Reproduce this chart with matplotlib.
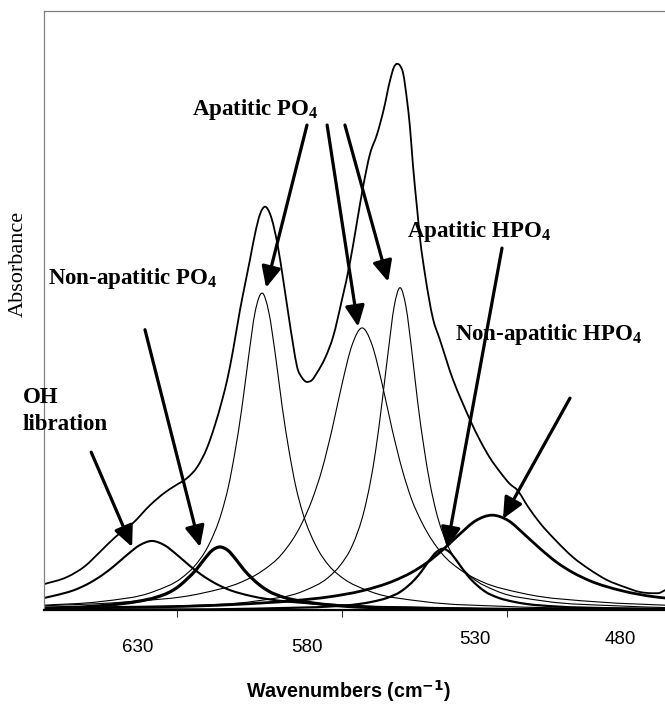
import matplotlib
matplotlib.use("Agg")
import matplotlib.pyplot as plt
from matplotlib.path import Path
from matplotlib.patches import PathPatch

plt.rcParams['mathtext.fontset'] = 'custom'
plt.rcParams['mathtext.bf'] = 'Liberation Serif:bold'
plt.rcParams['mathtext.rm'] = 'Liberation Serif:bold'

# measured spectrum (envelope)
env_wn = [658.2, 651.2, 645.8, 641.2, 636.7, 631.2, 626.0, 621.5, 618.5, 614.8, 611.8, 608.8,
          606.4, 604.2, 602.7, 600.9, 598.8, 597.3, 595.8, 594.2, 592.7, 591.2, 589.7, 587.3,
          585.7, 584.2, 582.7, 581.5, 580.0, 578.5, 577.0, 575.5, 573.0, 570.6, 567.9, 565.5,
          563.3, 561.5, 559.4, 557.3, 555.2, 553.3, 552.1, 551.2, 550.3, 549.4, 548.2, 547.3,
          546.4, 545.1, 544.2, 542.7, 540.3, 538.2, 534.2, 531.5, 529.1, 526.1, 523.0, 520.0,
          517.0, 514.8, 511.5, 507.9, 503.3, 497.9, 492.7, 487.6, 482.1, 477.6, 473.9, 472.1, 470.0]
env_abs = [0.043, 0.055, 0.073, 0.097, 0.121, 0.145, 0.175, 0.196, 0.207, 0.220, 0.238, 0.270,
           0.308, 0.350, 0.383, 0.433, 0.500, 0.542, 0.583, 0.628, 0.660, 0.672, 0.660, 0.605,
           0.550, 0.495, 0.442, 0.405, 0.387, 0.380, 0.383, 0.395, 0.420, 0.455, 0.517, 0.578,
           0.648, 0.705, 0.760, 0.792, 0.835, 0.883, 0.905, 0.910, 0.907, 0.895, 0.850, 0.805,
           0.742, 0.667, 0.617, 0.558, 0.485, 0.450, 0.383, 0.347, 0.317, 0.283, 0.253, 0.230,
           0.210, 0.200, 0.172, 0.145, 0.117, 0.088, 0.067, 0.050, 0.038, 0.030, 0.028, 0.028, 0.033]

# OH libration band
oh_wn = [658.2, 655.8, 648.2, 644.4, 640.6, 636.8, 633.0, 629.2, 625.5, 621.7, 617.9, 614.1,
         610.3, 606.5, 602.7, 595.2, 587.6, 580.0, 564.9, 534.6, 489.1, 470.0]
oh_abs = [0.020, 0.023, 0.035, 0.045, 0.058, 0.074, 0.092, 0.108, 0.115, 0.108, 0.092, 0.074,
          0.058, 0.045, 0.035, 0.023, 0.016, 0.012, 0.007, 0.003, 0.001, 0.001]

# non-apatitic PO4
npo4_wn = [658.2, 643.7, 634.0, 629.1, 624.3, 619.4, 617.0, 614.6, 612.1, 609.7, 607.3, 604.9,
           602.4, 600.0, 597.6, 595.2, 592.7, 590.3, 585.5, 580.6, 575.8, 566.1, 546.7, 517.6, 470.0]
npo4_abs = [0.003, 0.006, 0.011, 0.015, 0.021, 0.032, 0.041, 0.053, 0.067, 0.084, 0.099, 0.105,
            0.099, 0.084, 0.067, 0.053, 0.041, 0.032, 0.021, 0.015, 0.011, 0.006, 0.003, 0.001, 0.001]

# apatitic PO4, three bands
apo4a_wn = [658.2, 641.2, 624.8, 616.6, 612.6, 608.5, 604.4, 602.3, 600.3, 598.2, 596.2, 594.2,
            592.1, 590.1, 588.0, 586.0, 583.9, 581.9, 579.8, 575.7, 571.7, 567.6, 559.4, 543.0,
            518.5, 470.0]
apo4a_abs = [0.008, 0.014, 0.031, 0.053, 0.073, 0.106, 0.162, 0.206, 0.264, 0.338, 0.422, 0.497,
             0.528, 0.497, 0.422, 0.338, 0.264, 0.206, 0.162, 0.106, 0.073, 0.053, 0.031, 0.014,
             0.006, 0.002]

apo4b_wn = [658.2, 634.5, 610.3, 598.2, 592.1, 586.0, 580.0, 577.0, 573.9, 570.9, 567.9, 564.8,
            561.8, 558.8, 555.7, 552.7, 549.7, 546.7, 543.6, 537.6, 531.5, 525.4, 513.3, 489.1, 470.0]
apo4b_abs = [0.007, 0.013, 0.028, 0.047, 0.065, 0.094, 0.145, 0.183, 0.235, 0.301, 0.376, 0.442,
             0.470, 0.442, 0.376, 0.301, 0.235, 0.183, 0.145, 0.094, 0.065, 0.047, 0.028, 0.013, 0.008]

apo4c_wn = [658.2, 615.7, 593.9, 579.4, 572.1, 568.5, 564.8, 561.2, 559.4, 557.6, 555.8, 553.9,
            552.1, 550.3, 548.5, 546.7, 544.9, 543.0, 541.2, 539.4, 535.8, 532.1, 528.5, 521.2,
            506.7, 484.9, 470.0]
apo4c_abs = [0.002, 0.007, 0.015, 0.032, 0.054, 0.074, 0.107, 0.165, 0.210, 0.269, 0.344, 0.430,
             0.505, 0.537, 0.505, 0.430, 0.344, 0.269, 0.210, 0.165, 0.107, 0.074, 0.054, 0.032,
             0.015, 0.007, 0.004]

# apatitic HPO4
ahpo4_wn = [658.2, 613.6, 588.2, 571.2, 562.7, 558.5, 554.3, 550.0, 547.9, 545.8, 543.7, 541.5,
            539.4, 537.3, 535.2, 533.1, 530.9, 528.8, 526.7, 524.6, 520.3, 516.1, 511.9, 503.4,
            486.4, 470.0]
ahpo4_abs = [0.001, 0.001, 0.003, 0.006, 0.010, 0.014, 0.020, 0.031, 0.040, 0.051, 0.065, 0.082,
             0.096, 0.102, 0.096, 0.082, 0.065, 0.051, 0.040, 0.031, 0.020, 0.014, 0.010, 0.006,
             0.003, 0.002]

# non-apatitic HPO4
nhpo4_wn = [658.2, 640.6, 601.2, 581.5, 571.7, 561.8, 552.0, 547.0, 542.1, 537.2, 532.3, 527.3,
            522.4, 517.5, 512.6, 507.6, 502.7, 497.8, 492.9, 483.0, 473.2, 470.0]
nhpo4_abs = [0.003, 0.004, 0.009, 0.016, 0.022, 0.032, 0.049, 0.062, 0.079, 0.101, 0.126, 0.149,
             0.158, 0.149, 0.126, 0.101, 0.079, 0.062, 0.049, 0.032, 0.022, 0.020]

# axis labelling (Excel-style: labels sit between the tick marks)
tick_pos = [617.9, 567.9, 517.9]
tick_text = ['630', '580', '530', '480']
tick_text_pos = [629.9, 578.5, 527.7, 483.6]

W, H = 665, 706
fig = plt.figure(figsize=(W / 100, H / 100), dpi=100)
ax = fig.add_axes([44 / W, 1 - 610 / H, (W - 44) / W, 599 / H])


def px(x, y):
    # figure pixel (from top-left) -> figure fraction
    return x / W, 1 - y / H


def smooth_line(x, y, lw):
    # draw like Excel's "smoothed line": cubic bezier segments through the points
    n = len(x)
    sl = [(y[i + 1] - y[i]) / (x[i + 1] - x[i]) for i in range(n - 1)]
    m = [sl[0]] + [0.0] * (n - 2) + [sl[-1]]
    for i in range(1, n - 1):
        if sl[i - 1] * sl[i] <= 0:
            m[i] = 0.0
        else:
            h0, h1 = x[i] - x[i - 1], x[i + 1] - x[i]
            m[i] = (h0 * sl[i] + h1 * sl[i - 1]) / (h0 + h1)
    verts = [(x[0], y[0])]
    codes = [Path.MOVETO]
    for i in range(n - 1):
        d = (x[i + 1] - x[i]) / 3
        verts += [(x[i] + d, y[i] + d * m[i]), (x[i + 1] - d, y[i + 1] - d * m[i + 1]),
                  (x[i + 1], y[i + 1])]
        codes += [Path.CURVE4] * 3
    ax.add_patch(PathPatch(Path(verts, codes), fill=False, lw=lw, edgecolor='black',
                           capstyle='round', joinstyle='round'))


smooth_line(oh_wn, oh_abs, 1.5)
smooth_line(npo4_wn, npo4_abs, 2.3)
smooth_line(apo4a_wn, apo4a_abs, 0.8)
smooth_line(apo4b_wn, apo4b_abs, 0.8)
smooth_line(apo4c_wn, apo4c_abs, 0.8)
smooth_line(ahpo4_wn, ahpo4_abs, 1.6)
smooth_line(nhpo4_wn, nhpo4_abs, 2.0)
smooth_line(env_wn, env_abs, 1.3)

ax.set_xlim(658.2, 470.0)
ax.set_ylim(0, 0.998)
ax.set_yticks([])
ax.set_xticks(tick_pos)
ax.set_xticklabels([])
ax.tick_params(axis='x', direction='out', length=5, width=0.8, color='#333333')
for s in ['left', 'top']:
    ax.spines[s].set_color('#808080')
    ax.spines[s].set_linewidth(0.9)
ax.spines['right'].set_visible(False)
ax.spines['bottom'].set_color('black')
ax.spines['bottom'].set_linewidth(1.6)

# tick labels
for i, (t, xv) in enumerate(zip(tick_text, tick_text_pos)):
    yv = 648 if i < 2 else 640
    xf = ax.transData.transform((xv, 0))[0] / fig.dpi / fig.get_figwidth()
    fig.text(xf, 1 - yv / H, t, ha='center', va='center',
             family='Liberation Sans', fontsize=13.5)

fig.text(*px(349, 691), r'Wavenumbers (cm$^{\mathbf{-1}}$)', ha='center', va='center',
         family='Liberation Sans', fontweight='bold', fontsize=14.2, math_fontfamily='dejavusans')
fig.text(*px(18, 264), 'Absorbance', rotation=90, ha='center', va='center',
         family='Liberation Serif', fontsize=16)

lab = dict(family='Liberation Serif', fontweight='bold', fontsize=16.5, va='baseline')
fig.text(*px(192, 115), r'Apatitic PO$_\mathbf{4}$', ha='left', **lab)
fig.text(*px(48, 284), r'Non-apatitic PO$_\mathbf{4}$', ha='left', **lab)
fig.text(*px(23, 403), 'OH', ha='left', **lab)
fig.text(*px(23, 430), 'libration', ha='left', **lab)
fig.text(*px(407, 237), r'Apatitic HPO$_\mathbf{4}$', ha='left', **lab)
fig.text(*px(455, 340), r'Non-apatitic HPO$_\mathbf{4}$', ha='left', **lab)

# arrows: (start wn, start abs) -> (tip wn, tip abs)
arrows = [((643.9, 0.263), (631.5, 0.105)),
          ((627.6, 0.467), (610.9, 0.105)),
          ((578.5, 0.808), (590.9, 0.537)),
          ((572.4, 0.808), (563.0, 0.472)),
          ((567.0, 0.808), (553.9, 0.547)),
          ((519.4, 0.603), (536.1, 0.103)),
          ((498.8, 0.353), (519.1, 0.152))]
for start, tip in arrows:
    ax.annotate('', xy=tip, xytext=start,
                arrowprops=dict(arrowstyle='-|>,head_length=0.6,head_width=0.28',
                                mutation_scale=21, lw=2.3, color='black',
                                shrinkA=0, shrinkB=0))

fig.savefig('out.png', dpi=100)
